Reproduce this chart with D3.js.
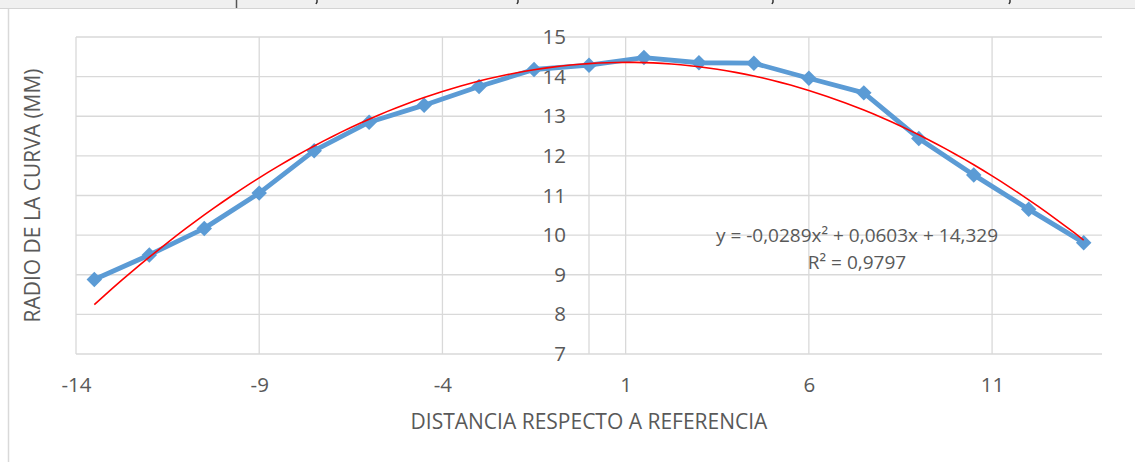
<!DOCTYPE html>
<html>
<head>
<meta charset="utf-8">
<script src="https://cdn.jsdelivr.net/npm/d3@7"></script>
<style>
  body { margin: 0; background: #fff; }
  svg { display: block; font-family: "Open Sans", "Noto Sans", sans-serif; }
</style>
</head>
<body>
<div id="chart"></div>
<script>
// distance from reference (x) and radius of curve (y)
var distancia = [-13.5, -12, -10.5, -9, -7.5, -6, -4.5, -3, -1.5, 0, 1.5, 3, 4.5, 6, 7.5, 9, 10.5, 12, 13.5];
var radio = [8.88, 9.50, 10.17, 11.06, 12.13, 12.85, 13.28, 13.75, 14.18, 14.29, 14.48, 14.35, 14.34, 13.96, 13.59, 12.44, 11.52, 10.65, 9.81];

// polynomial trendline shown on the chart: a*x^2 + b*x + c
var trendCoef = [-0.0289, 0.0603, 14.329];
var trendLabel = ["y = -0,0289x\u00b2 + 0,0603x + 14,329", "R\u00b2 = 0,9797"];

var xTicks = [-14, -9, -4, 1, 6, 11];
var yTicks = [7, 8, 9, 10, 11, 12, 13, 14, 15];

var width = 1135, height = 462;
var textColor = "#595959", gridColor = "#d9d9d9";

var svg = d3.select("#chart").append("svg")
    .attr("width", width)
    .attr("height", height);

// bits of the spreadsheet showing above the chart
svg.append("rect").attr("x", 0).attr("y", 0).attr("width", width).attr("height", 8).attr("fill", "#f0f0f0");
svg.append("line").attr("x1", 0).attr("x2", width).attr("y1", 8.5).attr("y2", 8.5).attr("stroke", "#d4d4d4");
svg.append("line").attr("x1", 236.5).attr("x2", 236.5).attr("y1", 0).attr("y2", 8).attr("stroke", "#555").attr("stroke-width", 1.5);
// tails of commas cut off by the crop
[316, 517, 772, 1009].forEach(function(cx) {
    svg.append("path").attr("d", "M" + (cx + 1) + ",0 L" + (cx + 1) + ",2 L" + cx + ",4")
        .attr("fill", "none").attr("stroke", "#333").attr("stroke-width", 1.5);
});
// chart border
svg.append("line").attr("x1", 8.5).attr("x2", 8.5).attr("y1", 9).attr("y2", height).attr("stroke", gridColor).attr("stroke-width", 1.5);

var x = d3.scaleLinear().domain([-14, 14]).range([76, 1102]);
var y = d3.scaleLinear().domain([7, 15]).range([354, 37]);

// gridlines
svg.append("g").selectAll("line").data(yTicks).join("line")
    .attr("x1", x(-14)).attr("x2", x(14))
    .attr("y1", d => y(d)).attr("y2", d => y(d))
    .attr("stroke", gridColor).attr("stroke-width", 1.3);
svg.append("g").selectAll("line").data(xTicks).join("line")
    .attr("x1", d => x(d)).attr("x2", d => x(d))
    .attr("y1", y(7)).attr("y2", y(15))
    .attr("stroke", gridColor).attr("stroke-width", 1.3);
// vertical axis crossing at x = 0
svg.append("line")
    .attr("x1", x(0)).attr("x2", x(0)).attr("y1", y(7)).attr("y2", y(15))
    .attr("stroke", gridColor).attr("stroke-width", 1.3);

// x axis labels
var xAxis = d3.axisBottom(x).tickValues(xTicks).tickSize(0).tickPadding(0).tickFormat(d => String(d));
var gx = svg.append("g").attr("transform", "translate(0,385)").call(xAxis);
gx.select(".domain").remove();
gx.selectAll("text").attr("y", 0).attr("dy", "0.35em")
    .attr("fill", textColor).style("font-size", "20.5px").style("font-family", "'Open Sans', sans-serif");

// y axis labels, drawn next to the x = 0 line
var yAxis = d3.axisLeft(y).tickValues(yTicks).tickSize(0).tickPadding(23).tickFormat(d => String(d));
var gy = svg.append("g").attr("transform", "translate(" + x(0) + ",0)").call(yAxis);
gy.select(".domain").remove();
gy.selectAll("text").attr("fill", textColor).style("font-size", "20.5px").style("font-family", "'Open Sans', sans-serif");

// axis titles
svg.append("text")
    .attr("x", (x(-14) + x(14)) / 2).attr("y", 422).attr("dy", "0.35em")
    .attr("text-anchor", "middle").attr("fill", textColor).attr("font-size", 21)
    .text("DISTANCIA RESPECTO A REFERENCIA");
svg.append("text")
    .attr("transform", "translate(33," + ((y(7) + y(15)) / 2) + ") rotate(-90)")
    .attr("dy", "0.35em")
    .attr("text-anchor", "middle").attr("fill", textColor).attr("font-size", 21)
    .text("RADIO DE LA CURVA (MM)");

// data series
var pts = distancia.map((d, i) => [d, radio[i]]);
svg.append("path")
    .datum(pts)
    .attr("fill", "none")
    .attr("stroke", "#5b9bd5")
    .attr("stroke-width", 4.8)
    .attr("stroke-linejoin", "round")
    .attr("d", d3.line().x(d => x(d[0])).y(d => y(d[1])));
svg.append("g").selectAll("path").data(pts).join("path")
    .attr("transform", d => "translate(" + x(d[0]) + "," + y(d[1]) + ") rotate(45)")
    .attr("d", d3.symbol(d3.symbolSquare, 120))
    .attr("fill", "#5b9bd5");

// trendline
var trendX = d3.range(distancia[0], distancia[distancia.length - 1] + 0.001, 0.25);
svg.append("path")
    .datum(trendX)
    .attr("fill", "none")
    .attr("stroke", "#ff0000")
    .attr("stroke-width", 1.6)
    .attr("d", d3.line()
        .x(d => x(d))
        .y(d => y(trendCoef[0] * d * d + trendCoef[1] * d + trendCoef[2])));

// trendline label
svg.append("g").selectAll("text").data(trendLabel).join("text")
    .attr("x", 857).attr("y", (d, i) => 235 + i * 27).attr("dy", "0.35em")
    .attr("text-anchor", "middle").attr("fill", textColor).attr("font-size", 19)
    .text(d => d);
</script>
</body>
</html>
